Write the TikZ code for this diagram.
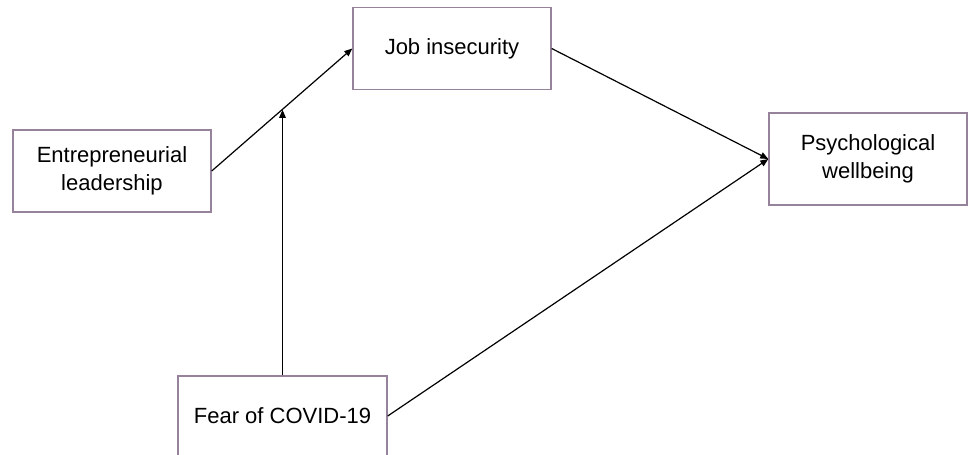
\documentclass[tikz,border=0pt]{standalone}
\usepackage{fontspec}
\setmainfont{Liberation Sans}
\usepackage{xcolor}
\usepackage{tikz}
\usetikzlibrary{arrows.meta}

\definecolor{boxline}{RGB}{150,130,155}

\begin{document}
\begin{tikzpicture}[
    x=1pt,y=-1pt,
    var/.style={draw=boxline,line width=1.4pt,align=center,
                font=\fontsize{22}{27.5}\selectfont,
                minimum width=198pt,minimum height=82pt,inner sep=0pt},
    arr/.style={line width=1.2pt,-{Triangle[length=8pt,width=6.5pt]}}
  ]
  \useasboundingbox (0,0) rectangle (972,455);

  \node[var] (ji) at (452,48.5) {Job insecurity};
  \node[var] (el) at (112,171) {Entrepreneurial\\leadership};
  \node[var,minimum height=92pt] (pw) at (868,159) {Psychological\\wellbeing};
  \node[var,minimum width=209pt,minimum height=80pt] (fc) at (282.5,416) {Fear of COVID-19};

  \draw[arr] (el.east) -- coordinate[pos=0.5] (mid) (ji.west);
  \draw[arr] (fc.north) -- (fc.north |- mid);
  \draw[arr] (ji.east) -- (pw.west);
  \draw[arr] (fc.east) -- (pw.west);
\end{tikzpicture}
\end{document}
